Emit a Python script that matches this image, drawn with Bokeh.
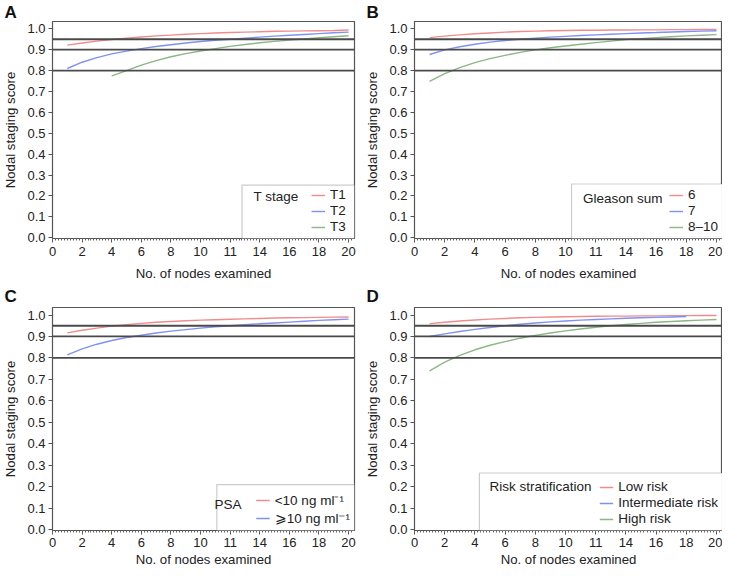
from bokeh.plotting import figure
from bokeh.layouts import gridplot
from bokeh.models import (Span, Legend, LegendItem, BoxAnnotation, Label, FixedTicker,
                          Range1d, CustomJSTickFormatter)
from bokeh.embed import file_html
from bokeh.resources import INLINE

# ---- data ----
nodes = list(range(1, 21))
nodes_t3 = list(range(4, 21))
nodes_int = list(range(1, 19))

t1 = [0.922, 0.932, 0.941, 0.949, 0.955, 0.961, 0.966, 0.970, 0.974, 0.977,
      0.980, 0.982, 0.984, 0.986, 0.988, 0.989, 0.990, 0.991, 0.992, 0.994]
t2 = [0.810, 0.840, 0.862, 0.880, 0.893, 0.905, 0.915, 0.924, 0.932, 0.939,
      0.945, 0.950, 0.955, 0.960, 0.965, 0.969, 0.973, 0.977, 0.981, 0.984]
t3 = [0.775, 0.800, 0.826, 0.848, 0.866, 0.881, 0.894, 0.905, 0.916, 0.925,
      0.933, 0.940, 0.946, 0.951, 0.957, 0.962, 0.967]

g6 = [0.958, 0.965, 0.971, 0.976, 0.980, 0.984, 0.987, 0.989, 0.991, 0.992,
      0.993, 0.993, 0.994, 0.994, 0.995, 0.995, 0.996, 0.996, 0.997, 0.997]
g7 = [0.877, 0.899, 0.914, 0.926, 0.936, 0.944, 0.950, 0.955, 0.960, 0.964,
      0.968, 0.971, 0.974, 0.977, 0.980, 0.982, 0.985, 0.987, 0.989, 0.991]
g8_10 = [0.748, 0.785, 0.814, 0.838, 0.857, 0.873, 0.887, 0.899, 0.909, 0.918,
         0.926, 0.934, 0.941, 0.948, 0.953, 0.958, 0.962, 0.966, 0.969, 0.972]

psa_low = [0.917, 0.929, 0.939, 0.948, 0.955, 0.961, 0.966, 0.970, 0.973, 0.976,
           0.978, 0.980, 0.982, 0.984, 0.986, 0.987, 0.988, 0.989, 0.990, 0.991]
psa_high = [0.814, 0.842, 0.864, 0.881, 0.895, 0.906, 0.916, 0.925, 0.932, 0.939,
            0.945, 0.950, 0.955, 0.959, 0.963, 0.967, 0.971, 0.975, 0.978, 0.981]

risk_low = [0.960, 0.966, 0.972, 0.977, 0.981, 0.984, 0.987, 0.989, 0.991, 0.992,
            0.993, 0.994, 0.995, 0.995, 0.996, 0.996, 0.997, 0.997, 0.998, 0.998]
risk_int = [0.900, 0.912, 0.923, 0.933, 0.942, 0.950, 0.957, 0.963, 0.968, 0.972,
            0.976, 0.979, 0.982, 0.985, 0.987, 0.989, 0.991, 0.993]
risk_high = [0.740, 0.780, 0.812, 0.838, 0.859, 0.876, 0.892, 0.905, 0.916, 0.926,
             0.935, 0.943, 0.950, 0.956, 0.961, 0.966, 0.970, 0.973, 0.976, 0.979]

thresholds = [0.8, 0.9, 0.95]
x_ticks = [0, 2, 4, 6, 8, 10, 12, 14, 16, 18, 20]
x_tick_labels = ["0", "2", "4", "6", "8", "10", "11", "14", "16", "18", "20"]
y_ticks = [0.0, 0.1, 0.2, 0.3, 0.4, 0.5, 0.6, 0.7, 0.8, 0.9, 1.0]

# ---- styles ----
RED = "#f08c8c"
BLUE = "#7f92f2"
GREEN = "#8cb785"
FONT = "Liberation Sans"
TXT = "#222222"
X_END = 20.4

panels = [
    dict(letter="A", title="T stage", names=["T1", "T2", "T3"],
         xs=[nodes, nodes, nodes_t3], ys=[t1, t2, t3], colors=[RED, BLUE, GREEN],
         box_left=12.8, box_top=0.252, title_gap=56, title_y=0.197,
         width=358, height=283, left_border=0, right_border=4, top_row=True),
    dict(letter="B", title="Gleason sum", names=["6", "7", "8\u201310"],
         xs=[nodes, nodes, nodes], ys=[g6, g7, g8_10], colors=[RED, BLUE, GREEN],
         box_left=10.4, box_top=0.257, title_gap=60, title_y=0.187,
         width=364, height=283, left_border=56, right_border=0, top_row=True),
    dict(letter="C", title="PSA", names=["<10 ng ml\u207b\u00b9", "\u2a7e10 ng ml\u207b\u00b9"],
         xs=[nodes, nodes], ys=[psa_low, psa_high], colors=[RED, BLUE],
         box_left=11.1, box_top=0.21, title_gap=113, title_y=0.117,
         width=358, height=286, left_border=0, right_border=2, top_row=False),
    dict(letter="D", title="Risk stratification",
         names=["Low risk", "Intermediate risk", "High risk"],
         xs=[nodes, nodes_int, nodes], ys=[risk_low, risk_int, risk_high],
         colors=[RED, BLUE, GREEN],
         box_left=4.3, box_top=0.264, title_gap=131, title_y=0.201,
         width=364, height=286, left_border=54, right_border=0, top_row=False),
]

figs = []
for pan in panels:
    p = figure(width=pan["width"], height=pan["height"], output_backend="svg",
               toolbar_location=None, x_range=Range1d(0, X_END),
               y_range=Range1d(-0.004, 1.035))
    p.min_border_left = pan["left_border"]
    p.min_border_right = pan["right_border"]
    p.min_border_top = 0
    p.min_border_bottom = 0
    p.background_fill_color = "white"
    p.border_fill_color = "white"
    p.outline_line_color = "#555555"
    p.outline_line_width = 1.2
    p.grid.visible = False

    p.title.text = pan["letter"]
    p.title.text_font = FONT
    p.title.text_font_size = "17px"
    p.title.text_font_style = "bold"
    p.title.text_color = "#111111"
    p.title.align = "left"
    p.title.offset = -48
    p.title.standoff = 0 if pan["top_row"] else 3

    for ax in (p.xaxis[0], p.yaxis[0]):
        ax.axis_line_color = "#555555"
        ax.major_tick_line_color = "#555555"
        ax.major_label_text_font = FONT
        ax.major_label_text_font_size = "13px"
        ax.major_label_text_color = TXT
        ax.axis_label_text_font = FONT
        ax.axis_label_text_font_size = "13.2px"
        ax.axis_label_text_font_style = "normal"
        ax.axis_label_text_color = TXT
        ax.major_tick_in = 0
        ax.major_tick_out = 4

    p.xaxis.ticker = FixedTicker(ticks=x_ticks,
                                 minor_ticks=[i * 0.2 for i in range(0, 102)])
    p.xaxis.major_label_overrides = {t: l for t, l in zip(x_ticks, x_tick_labels)}
    p.xaxis.minor_tick_line_color = "#666666"
    p.xaxis.minor_tick_in = 0
    p.xaxis.minor_tick_out = 2
    p.xaxis.major_label_standoff = 4 if pan["top_row"] else 3
    p.xaxis.axis_label = "No. of nodes examined"
    p.xaxis.axis_label_standoff = 7 if pan["top_row"] else 2

    p.yaxis.ticker = FixedTicker(ticks=y_ticks)
    p.yaxis.formatter = CustomJSTickFormatter(code="return tick.toFixed(1);")
    p.yaxis.minor_tick_line_color = None
    p.yaxis.major_label_standoff = 3
    p.yaxis.axis_label = "Nodal staging score"
    p.yaxis.axis_label_standoff = 6

    for t in thresholds:
        p.add_layout(Span(location=t, dimension="width", line_color="#4a4a4a",
                          line_width=1.8))

    items = []
    for name, xs, ys, c in zip(pan["names"], pan["xs"], pan["ys"], pan["colors"]):
        r = p.line(xs, ys, line_color=c, line_width=1.4)
        items.append(LegendItem(label=name, renderers=[r]))

    p.add_layout(BoxAnnotation(left=pan["box_left"], top=pan["box_top"],
                               fill_color="white", fill_alpha=1.0,
                               line_color="#555555", line_width=1.2))
    p.add_layout(Label(x=X_END, y=pan["title_y"], x_offset=-pan["title_gap"],
                       text=pan["title"], text_align="right",
                       text_font=FONT, text_font_size="13.5px", text_color=TXT,
                       text_baseline="middle"))

    leg = Legend(items=items, location="bottom_right")
    leg.border_line_alpha = 0
    leg.background_fill_alpha = 0
    leg.label_text_font = FONT
    leg.label_text_font_size = "13.5px"
    leg.label_text_color = TXT
    leg.glyph_width = 14
    leg.glyph_height = 14
    leg.label_height = 14
    leg.label_standoff = 5
    leg.spacing = 1
    leg.padding = 3
    leg.margin = 1
    p.add_layout(leg, "center")
    figs.append(p)

grid = gridplot([[figs[0], figs[1]], [figs[2], figs[3]]], toolbar_location=None)

open("out.html", "w").write(file_html(grid, INLINE))
